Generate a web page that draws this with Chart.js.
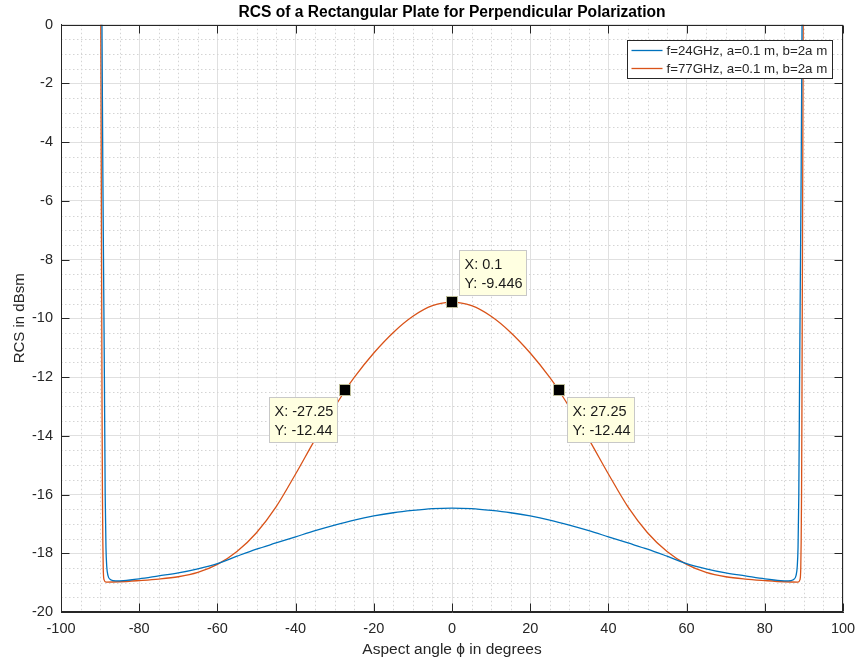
<!DOCTYPE html>
<html>
<head>
<meta charset="utf-8">
<script src="https://cdn.jsdelivr.net/npm/chart.js@4.4.1/dist/chart.umd.min.js"></script>
<style>
  html, body { margin: 0; padding: 0; background: #ffffff; }
  #wrap { width: 857px; height: 663px; }
</style>
</head>
<body>
<div id="wrap"><canvas id="rcs" width="857" height="663"></canvas></div>
<script>
// Monostatic RCS of a rectangular plate, perpendicular polarization (dBsm vs aspect angle)
const seriesLabels = ['f=24GHz, a=0.1 m, b=2a m', 'f=77GHz, a=0.1 m, b=2a m'];

const angles24 = [-89.6, -89.5, -89.3, -89.1, -88.9, -88.7, -88.5, -88.3, -88.0, -87.3, -86, -84, -80, -75, -70, -65, -60, -55, -50, -45, -40, -35, -30, -25, -20, -15, -10, -5, 0,
                  5, 10, 15, 20, 25, 30, 35, 40, 45, 50, 55, 60, 65, 70, 75, 80, 84, 86, 87.3, 88.0, 88.3, 88.5, 88.7, 88.9, 89.1, 89.3, 89.5, 89.6];
const rcs24 = [2, -0.5, -5, -8.5, -12, -16, -17.8, -18.45, -18.75, -18.9, -18.94, -18.93, -18.87, -18.77, -18.67, -18.53, -18.35, -18.1, -17.86, -17.65, -17.44, -17.23, -17.04, -16.87, -16.73, -16.62, -16.54, -16.48, -16.46,
               -16.48, -16.54, -16.62, -16.73, -16.87, -17.04, -17.23, -17.44, -17.65, -17.86, -18.1, -18.35, -18.53, -18.67, -18.77, -18.87, -18.93, -18.94, -18.9, -18.75, -18.45, -17.8, -16, -12, -8.5, -5, -0.5, 2];

const angles77 = [-89.9, -89.8, -89.7, -89.6, -89.5, -89.4, -89.3, -89.2, -89.0, -88.5, -85, -80, -75, -70, -65, -60, -55, -50, -45, -40, -35, -30, -27.25, -25, -20, -15, -10, -5, 0,
                  5, 10, 15, 20, 25, 27.25, 30, 35, 40, 45, 50, 55, 60, 65, 70, 75, 80, 85, 88.5, 89.0, 89.2, 89.3, 89.4, 89.5, 89.6, 89.7, 89.8, 89.9];
const rcs77 = [3, -1, -5, -9, -13, -16, -17.6, -18.5, -18.9, -18.98, -18.97, -18.93, -18.88, -18.8, -18.65, -18.38, -17.94, -17.3, -16.42, -15.3, -14.12, -13.02, -12.44, -12.01, -11.18, -10.48, -9.93, -9.57, -9.446,
               -9.57, -9.93, -10.48, -11.18, -12.01, -12.44, -13.02, -14.12, -15.3, -16.42, -17.3, -17.94, -18.38, -18.65, -18.8, -18.88, -18.93, -18.97, -18.98, -18.9, -18.5, -17.6, -16, -13, -9, -5, -1, 3];

// Data cursors placed on the 77 GHz curve
const tipX = [-27.25, 0.1, 27.25];
const tipY = [-12.44, -9.446, -12.44];

// Axis ticks
const xTickStep = 20, xMinorStep = 5, xMin = -100, xMax = 100;
const yTickStep = 2, yMinorStep = 0.5, yMin = -20, yMax = 0;

const FONT = '"Liberation Sans", Arial, Helvetica, sans-serif';
const INK = '#262626';
const colors = ['#0072BD', '#D95319'];

function toPoints(xs, ys) { return xs.map((v, i) => ({ x: v, y: ys[i] })); }

const tipPlacement = ['below-left', 'above-right', 'below-right'];

const matlabAxes = {
  id: 'matlabAxes',
  beforeDatasetsDraw(chart) {
    const { ctx, chartArea: a, scales: { x, y } } = chart;
    ctx.save();
    ctx.strokeStyle = '#d4d4d4';
    ctx.lineWidth = 1;
    ctx.setLineDash([1.5, 2.5]);
    ctx.beginPath();
    for (let v = xMin + xMinorStep; v < xMax; v += xMinorStep) {
      if (v % xTickStep === 0) continue;
      const px = Math.round(x.getPixelForValue(v)) + 0.5;
      ctx.moveTo(px, a.top); ctx.lineTo(px, a.bottom);
    }
    for (let v = yMin + yMinorStep; v < yMax; v += yMinorStep) {
      if (v % yTickStep === 0) continue;
      const py = Math.round(y.getPixelForValue(v)) + 0.5;
      ctx.moveTo(a.left, py); ctx.lineTo(a.right, py);
    }
    ctx.stroke();
    ctx.restore();
  },
  afterDatasetsDraw(chart) {
    const { ctx, chartArea: a, scales: { x, y } } = chart;
    ctx.save();
    // axes box
    const L = Math.round(a.left) + 0.5, R = Math.round(a.right) - 0.5;
    const T = Math.round(a.top) + 0.5, B = Math.round(a.bottom) - 0.5;
    ctx.strokeStyle = INK;
    ctx.lineWidth = 1;
    ctx.strokeRect(L, T, R - L, B - T);
    // inward tick marks on all four sides
    const tl = 8;
    ctx.beginPath();
    x.ticks.forEach(t => {
      const px = Math.round(x.getPixelForValue(t.value)) + 0.5;
      ctx.moveTo(px, B); ctx.lineTo(px, B - tl);
      ctx.moveTo(px, T); ctx.lineTo(px, T + tl);
    });
    y.ticks.forEach(t => {
      const py = Math.round(y.getPixelForValue(t.value)) + 0.5;
      ctx.moveTo(L, py); ctx.lineTo(L + tl, py);
      ctx.moveTo(R, py); ctx.lineTo(R - tl, py);
    });
    ctx.stroke();

    // legend
    ctx.font = '13.3px ' + FONT;
    const ds = chart.data.datasets;
    const tw = Math.max(...ds.map(d => ctx.measureText(d.label).width));
    const lineLen = 31, rowH = 18;
    const bw = Math.round(4 + lineLen + 4 + tw + 5), bh = 38;
    const bx = Math.round(a.right - 11 - bw) + 0.5, by = Math.round(a.top + 15) + 0.5;
    ctx.fillStyle = '#ffffff';
    ctx.fillRect(bx, by, bw, bh);
    ctx.strokeStyle = INK;
    ctx.strokeRect(bx, by, bw, bh);
    ds.forEach((d, i) => {
      const ly = by + 10 + i * rowH;
      ctx.strokeStyle = d.borderColor;
      ctx.lineWidth = 1.3;
      ctx.beginPath();
      ctx.moveTo(bx + 4, ly); ctx.lineTo(bx + 4 + lineLen, ly);
      ctx.stroke();
      ctx.fillStyle = INK;
      ctx.textBaseline = 'middle';
      ctx.textAlign = 'left';
      ctx.fillText(d.label, bx + 4 + lineLen + 4, ly + 0.5);
    });

    // data cursors
    ctx.font = '14.5px ' + FONT;
    tipX.forEach((vx, i) => {
      const px = x.getPixelForValue(vx), py = y.getPixelForValue(tipY[i]);
      const l1 = 'X: ' + vx, l2 = 'Y: ' + tipY[i];
      const w = Math.round(Math.max(ctx.measureText(l1).width, ctx.measureText(l2).width) + 9);
      const h = 45;
      let left, top;
      if (tipPlacement[i] === 'above-right') { left = px + 7; top = py - 7 - h; }
      else if (tipPlacement[i] === 'below-left') { left = px - 8 - w; top = py + 7; }
      else { left = px + 8; top = py + 7; }
      left = Math.round(left) + 0.5; top = Math.round(top) + 0.5;
      ctx.fillStyle = '#ffffe1';
      ctx.fillRect(left, top, w, h);
      ctx.strokeStyle = '#c8c8c8';
      ctx.lineWidth = 1;
      ctx.strokeRect(left, top, w, h);
      ctx.fillStyle = '#1a1a1a';
      ctx.textBaseline = 'middle';
      ctx.textAlign = 'left';
      ctx.fillText(l1, left + 5, top + 14);
      ctx.fillText(l2, left + 5, top + 33);
      ctx.fillStyle = '#000000';
      ctx.fillRect(Math.round(px) - 5, Math.round(py) - 5, 10, 10);
      ctx.strokeStyle = '#bdbd9a';
      ctx.strokeRect(Math.round(px) - 5.5, Math.round(py) - 5.5, 11, 11);
    });
    ctx.restore();
  }
};

Chart.defaults.font.family = FONT;
Chart.defaults.color = INK;

new Chart(document.getElementById('rcs'), {
  type: 'line',
  data: {
    datasets: [
      { label: seriesLabels[0], data: toPoints(angles24, rcs24), borderColor: colors[0], backgroundColor: colors[0],
        borderWidth: 1.3, pointRadius: 0, cubicInterpolationMode: 'monotone', fill: false },
      { label: seriesLabels[1], data: toPoints(angles77, rcs77), borderColor: colors[1], backgroundColor: colors[1],
        borderWidth: 1.3, pointRadius: 0, cubicInterpolationMode: 'monotone', fill: false }
    ]
  },
  options: {
    responsive: false,
    animation: false,
    layout: { padding: { left: 0, right: 14, top: 0, bottom: 0 } },
    plugins: {
      legend: { display: false },
      tooltip: { enabled: false },
      title: {
        display: true,
        fullSize: false,
        text: 'RCS of a Rectangular Plate for Perpendicular Polarization',
        font: { size: 15.6, weight: 'bold', family: FONT },
        color: '#000000',
        padding: { top: 3, bottom: 3 }
      }
    },
    scales: {
      x: {
        type: 'linear', min: xMin, max: xMax,
        ticks: { stepSize: xTickStep, font: { size: 14.5 }, color: INK, padding: 8, maxRotation: 0 },
        grid: { color: '#e0e0e0', drawTicks: false },
        border: { display: true, color: INK, width: 1 },
        title: { display: true, text: 'Aspect angle ϕ in degrees', font: { size: 15.5 }, color: INK, padding: { top: 0, bottom: 4 } },
        afterFit(s) { s.height = 51; s.paddingLeft = 0; s.paddingRight = 0; }
      },
      y: {
        type: 'linear', min: yMin, max: yMax,
        ticks: { stepSize: yTickStep, font: { size: 14.5 }, color: INK, padding: 8 },
        grid: { color: '#e0e0e0', drawTicks: false },
        border: { display: true, color: INK, width: 1 },
        title: { display: true, text: 'RCS in dBsm', font: { size: 15 }, color: INK, padding: { top: 11, bottom: 0 } },
        afterFit(s) { s.width = 61; s.paddingTop = 0; s.paddingBottom = 0; }
      }
    }
  },
  plugins: [matlabAxes]
});
</script>
</body>
</html>
